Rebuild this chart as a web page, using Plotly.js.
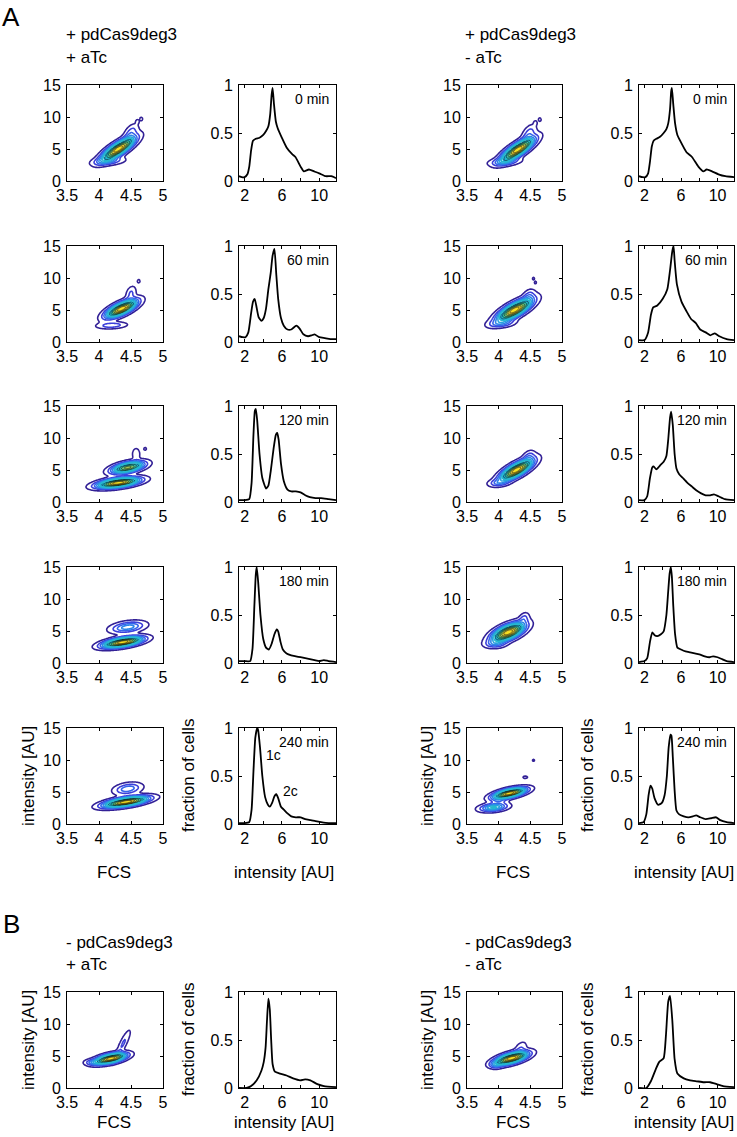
<!DOCTYPE html>
<html><head><meta charset="utf-8">
<script src="https://cdn.plot.ly/plotly-3.0.1.min.js"></script>
<style>html,body{margin:0;padding:0;background:#fff}#chart{width:737px;height:1137px}</style>
</head><body><div id="chart"></div>
<script>
// ---------------- DATA ----------------
const timeLabels = ['0 min','60 min','120 min','180 min','240 min'];
const titlesA = [['+ pdCas9deg3','+ aTc'],['+ pdCas9deg3','- aTc']];
const titlesB = [['- pdCas9deg3','+ aTc'],['- pdCas9deg3','- aTc']];

const fcsTicks = [3.5,4,4.5,5];
const fcsTickText = ['3.5','4','4.5','5'];
const intTicks = [0,5,10,15];
const intTickText = ['0','5','10','15'];
const histXTicks = [2,4,6,8,10];
const histXTickText = ['2','','6','','10'];
const histYTicks = [0,0.5,1];
const histYTickText = ['0','0.5','1'];

// histogram curves: + pdCas9deg3 + aTc (PP), + pdCas9deg3 - aTc (PM), - pd + aTc (MP), - pd - aTc (MM)
const hPP0x = [1.4,1.7,2.0,2.3,2.5,2.7,2.9,3.2,3.6,4.0,4.3,4.55,4.75,4.9,5.0,5.15,5.35,5.55,6.0,6.5,7.1,7.45,8.0,8.35,8.9,9.45,10.0,10.7,11.3,11.8];
const hPP0y = [0.05,0.04,0.04,0.07,0.15,0.32,0.42,0.44,0.45,0.48,0.52,0.57,0.7,0.9,0.97,0.8,0.62,0.55,0.45,0.35,0.28,0.25,0.15,0.1,0.12,0.1,0.08,0.05,0.05,0.03];
const hPM0x = [1.4,1.8,2.1,2.4,2.6,2.8,3.0,3.3,3.7,4.1,4.4,4.6,4.8,4.92,5.0,5.15,5.35,5.6,5.9,6.6,7.2,7.9,8.45,8.8,9.4,10.1,10.85,11.8];
const hPM0y = [0.05,0.04,0.04,0.08,0.2,0.36,0.42,0.44,0.46,0.5,0.54,0.6,0.75,0.93,0.97,0.8,0.6,0.48,0.42,0.3,0.25,0.15,0.1,0.12,0.1,0.07,0.05,0.04];
const hPP60x = [1.4,1.8,2.1,2.4,2.7,2.9,3.08,3.25,3.5,3.8,4.05,4.3,4.55,4.8,5.0,5.2,5.4,5.6,5.9,6.2,6.6,7.0,7.55,7.9,8.3,8.8,9.2,9.5,10.0,10.6,11.2,11.8];
const hPP60y = [0.06,0.05,0.05,0.1,0.3,0.42,0.45,0.38,0.26,0.22,0.25,0.35,0.55,0.72,0.9,0.97,0.7,0.45,0.25,0.17,0.13,0.13,0.17,0.14,0.08,0.06,0.07,0.08,0.05,0.04,0.03,0.03];
const hPM60x = [1.4,2.0,2.4,2.7,2.95,3.4,4.0,4.5,4.8,5.05,5.18,5.3,5.55,6.05,6.6,7.1,7.6,8.1,8.7,9.2,9.7,10.2,11.0,11.8];
const hPM60y = [0.02,0.02,0.1,0.28,0.36,0.38,0.45,0.55,0.75,0.95,1.0,0.85,0.6,0.42,0.32,0.24,0.2,0.13,0.1,0.07,0.09,0.06,0.03,0.02];
const hPP120x = [1.4,2.0,2.5,2.75,2.95,3.1,3.2,3.35,3.6,3.9,4.3,4.55,4.8,5.1,5.35,5.5,5.65,5.9,6.2,6.6,7.0,7.5,8.0,8.5,9.0,9.6,10.2,11.0,11.8];
const hPP120y = [0.02,0.02,0.03,0.2,0.7,0.95,0.97,0.85,0.5,0.25,0.14,0.17,0.32,0.55,0.7,0.72,0.65,0.4,0.22,0.13,0.11,0.11,0.1,0.07,0.05,0.04,0.04,0.03,0.02];
const hPM120x = [1.4,2.0,2.3,2.6,2.85,3.0,3.3,3.7,4.1,4.4,4.6,4.8,4.92,5.1,5.3,5.5,5.8,6.2,6.7,7.2,7.7,8.2,8.7,9.2,9.6,10.1,10.8,11.8];
const hPM120y = [0.02,0.02,0.06,0.25,0.36,0.37,0.34,0.38,0.42,0.48,0.65,0.88,0.94,0.8,0.5,0.35,0.29,0.25,0.2,0.16,0.12,0.09,0.07,0.07,0.08,0.06,0.03,0.02];
const hPP180x = [1.4,2.0,2.6,2.85,3.05,3.2,3.3,3.45,3.7,4.0,4.3,4.6,4.9,5.2,5.45,5.6,5.85,6.1,6.5,7.0,7.5,8.0,8.5,9.0,9.5,10.0,10.5,11.0,11.8];
const hPP180y = [0.02,0.02,0.02,0.15,0.6,0.92,1.0,0.85,0.5,0.25,0.16,0.14,0.2,0.3,0.35,0.33,0.22,0.14,0.1,0.08,0.07,0.06,0.05,0.04,0.03,0.02,0.03,0.02,0.01];
const hPM180x = [1.4,2.0,2.3,2.6,2.85,3.1,3.4,3.8,4.1,4.4,4.6,4.75,4.88,5.0,5.15,5.35,5.6,6.0,6.5,7.0,7.5,8.0,8.6,9.1,9.5,10.0,10.5,11.0,11.8];
const hPM180y = [0.01,0.02,0.05,0.22,0.32,0.29,0.28,0.3,0.33,0.5,0.75,0.93,1.0,0.9,0.6,0.3,0.16,0.14,0.12,0.11,0.1,0.09,0.07,0.06,0.07,0.06,0.04,0.02,0.01];
const hPP240x = [1.4,2.0,2.5,2.75,2.95,3.15,3.35,3.45,3.65,3.9,4.2,4.5,4.7,4.95,5.2,5.4,5.6,5.9,6.2,6.6,7.0,7.5,8.0,8.5,9.1,9.6,10.2,11.0,11.8];
const hPP240y = [0.01,0.01,0.02,0.15,0.55,0.9,1.0,0.98,0.8,0.5,0.28,0.2,0.18,0.22,0.29,0.31,0.27,0.18,0.15,0.11,0.08,0.07,0.07,0.05,0.04,0.03,0.02,0.01,0.01];
const hPM240x = [1.4,1.9,2.2,2.45,2.65,2.85,3.1,3.5,3.9,4.2,4.45,4.65,4.85,4.95,5.1,5.3,5.5,5.8,6.3,6.8,7.3,7.65,8.1,8.7,9.3,9.85,10.3,11.0,11.8];
const hPM240y = [0.01,0.02,0.1,0.3,0.4,0.37,0.27,0.2,0.22,0.3,0.5,0.8,0.93,0.92,0.7,0.35,0.14,0.1,0.08,0.07,0.08,0.09,0.07,0.05,0.06,0.07,0.04,0.02,0.01];
const hMPx = [1.4,2.2,2.7,3.3,3.8,4.05,4.25,4.4,4.55,4.7,4.85,5.0,5.25,5.8,6.5,7.2,7.95,8.5,9.05,9.8,10.5,11.8];
const hMPy = [0.0,0.0,0.02,0.08,0.18,0.27,0.42,0.7,0.93,0.82,0.5,0.25,0.17,0.15,0.13,0.1,0.08,0.09,0.08,0.04,0.02,0.01];
const hMMx = [1.4,2.2,2.7,3.25,3.6,4.1,4.35,4.6,4.8,5.05,5.3,5.6,6.3,7.0,7.75,8.5,9.2,9.9,10.6,11.8];
const hMMy = [0.0,0.0,0.07,0.2,0.27,0.31,0.55,0.9,0.96,0.7,0.3,0.15,0.1,0.08,0.07,0.06,0.06,0.04,0.02,0.01];

// density blobs: [FCS centre, intensity centre, sdFCS, sdIntensity, correlation, relative height]
const cPP0 = [[4.3,5.0,0.15,1.05,0.8,1.0],[4.5,7.6,0.07,0.8,0.5,0.12],[4.15,3.1,0.15,0.4,0.3,0.15],[4.6,9.3,0.02,0.25,0,0.05],[4.66,9.7,0.02,0.25,0,0.05]];
const cPM0 = [[4.3,4.9,0.15,1.05,0.8,1.0],[4.48,7.5,0.07,0.8,0.5,0.12],[4.1,3.0,0.15,0.4,0.3,0.15],[4.58,9.1,0.02,0.25,0,0.05],[4.65,9.6,0.02,0.25,0,0.05]];
const cPP60 = [[4.35,5.2,0.14,0.8,0.7,1.0],[4.5,7.6,0.05,0.7,0.3,0.1],[4.2,2.6,0.14,0.32,0.2,0.14],[4.62,9.5,0.02,0.25,0,0.05]];
const cPM60 = [[4.25,5.0,0.16,1.0,0.75,1.0],[4.48,7.3,0.06,0.6,0.3,0.1],[4.05,2.9,0.13,0.4,0.3,0.14],[4.55,9.9,0.015,0.2,0,0.05],[4.58,9.3,0.015,0.2,0,0.05]];
const cPP120 = [[4.45,5.4,0.15,0.55,0.5,0.75],[4.58,7.5,0.04,0.6,0,0.08],[4.72,8.3,0.02,0.2,0,0.05],[4.3,3.0,0.19,0.48,0.5,1.0]];
const cPM120 = [[4.28,5.0,0.15,0.95,0.75,1.0],[4.48,7.2,0.06,0.55,0.3,0.1],[4.0,3.0,0.1,0.35,0.2,0.12]];
const cPP180 = [[4.45,5.6,0.16,0.55,0.35,0.25],[4.37,3.25,0.18,0.5,0.55,1.0]];
const cPM180 = [[4.15,4.8,0.15,0.85,0.6,1.0],[4.4,7.0,0.05,0.55,0.3,0.1],[3.95,3.0,0.1,0.4,0.1,0.14]];
const cPP240 = [[4.45,5.5,0.13,0.55,0.3,0.2],[4.42,3.45,0.2,0.5,0.6,1.0]];
const cPM240 = [[4.17,4.8,0.15,0.5,0.6,1.0],[3.92,2.6,0.13,0.4,0.3,0.35],[4.0,3.6,0.08,0.3,0,0.1],[4.42,7.3,0.03,0.15,0,0.06],[4.55,9.95,0.015,0.15,0,0.05]];
const cMP = [[4.18,4.6,0.14,0.5,0.55,1.0],[4.38,7.0,0.07,1.3,0.85,0.1],[3.9,4.0,0.08,0.3,0,0.12]];
const cMM = [[4.2,4.65,0.15,0.6,0.6,1.0],[4.35,6.3,0.06,0.6,0.4,0.08],[3.95,3.6,0.06,0.35,0,0.12]];

// ---------------- LAYOUT GEOMETRY ----------------
const W = 737, H = 1137;
const FONT = '"Liberation Sans", Arial, Helvetica, sans-serif';
const colPx = [[67,163],[239,336],[467,562],[639,734]];
const rowTopPx = [85,246,406,567,728,992];
const boxH = 96;

const rows = [
  [cPP0,[hPP0x,hPP0y],cPM0,[hPM0x,hPM0y]],
  [cPP60,[hPP60x,hPP60y],cPM60,[hPM60x,hPM60y]],
  [cPP120,[hPP120x,hPP120y],cPM120,[hPM120x,hPM120y]],
  [cPP180,[hPP180x,hPP180y],cPM180,[hPM180x,hPM180y]],
  [cPP240,[hPP240x,hPP240y],cPM240,[hPM240x,hPM240y]],
  [cMP,[hMPx,hMPy],cMM,[hMMx,hMMy]]
];

// evaluation grid for the density surfaces
const gridX = [], gridY = [];
for (let v = 3.5; v <= 5.0001; v += 0.0125) gridX.push(+v.toFixed(4));
for (let v = 0; v <= 15.0001; v += 0.1) gridY.push(+v.toFixed(3));

function densityGrid(blobs){
  const z = []; let mx = 0;
  for (const y of gridY){
    const row = [];
    for (const x of gridX){
      let s = 0;
      for (const b of blobs){
        const [cx,cy,sx,sy,r,a] = b;
        const dx = (x-cx)/sx, dy = (y-cy)/sy;
        const q = (dx*dx - 2*r*dx*dy + dy*dy)/(1-r*r);
        s += a*Math.exp(-0.5*q);
      }
      row.push(s); if (s > mx) mx = s;
    }
    z.push(row);
  }
  return z.map(r => r.map(v => v/mx));
}

const fillScale = [[0,'rgba(255,255,255,0)'],[0.34,'rgba(255,255,255,0)'],[0.34,'rgb(45,160,220)'],[0.46,'rgb(30,182,200)'],[0.58,'rgb(70,192,150)'],[0.72,'rgb(150,198,90)'],[0.86,'rgb(228,196,52)'],[1,'rgb(248,228,30)']];
const lineScale = [[0,'rgb(50,32,150)'],[0.2,'rgb(60,64,218)'],[0.45,'rgb(52,110,238)'],[0.7,'rgb(40,150,228)'],[1,'rgb(36,185,206)']];

const layout = {
  width: W, height: H, margin:{l:0,r:0,t:0,b:0}, showlegend:false,
  paper_bgcolor:'#fff', plot_bgcolor:'#fff',
  font:{family:FONT, size:16, color:'#000'},
  annotations: []
};
const traces = [];
let n = 0;

function axisCommon(){
  return {showline:true, linecolor:'#000', linewidth:1, mirror:'ticks', ticks:'inside', ticklen:3, tickwidth:1, tickcolor:'#000',
    showgrid:false, zeroline:false, fixedrange:true, tickfont:{family:FONT,size:16,color:'#000'}};
}

function addPanel(colIdx, rowIdx, kind, data){
  n++;
  const xn = n===1 ? 'x' : 'x'+n, yn = n===1 ? 'y' : 'y'+n;
  const xk = n===1 ? 'xaxis' : 'xaxis'+n, yk = n===1 ? 'yaxis' : 'yaxis'+n;
  const [L,R] = colPx[colIdx]; const T = rowTopPx[rowIdx]; const B = T + boxH;
  const xa = axisCommon(), ya = axisCommon();
  xa.domain = [L/W, R/W]; xa.anchor = yn;
  ya.domain = [1-B/H, 1-T/H]; ya.anchor = xn;
  ya.ticklabelstandoff = 2;
  if (kind === 'contour'){
    xa.range = [3.5,5]; xa.tickvals = fcsTicks; xa.ticktext = fcsTickText;
    ya.range = [0,15]; ya.tickvals = intTicks; ya.ticktext = intTickText;
    const z = densityGrid(data);
    traces.push({type:'contour', x:gridX, y:gridY, z:z, xaxis:xn, yaxis:yn, zmin:0, zmax:1, zauto:false,
      colorscale:fillScale, showscale:false, hoverinfo:'skip',
      contours:{coloring:'heatmap', showlines:false, start:0.4, end:1, size:0.1}});
    traces.push({type:'contour', x:gridX, y:gridY, z:z, xaxis:xn, yaxis:yn,
      colorscale:lineScale, showscale:false, hoverinfo:'skip', line:{width:1.6},
      contours:{coloring:'lines', start:0.03, end:0.33, size:0.06}});
  } else {
    xa.range = [1.4,11.8]; xa.tickvals = histXTicks; xa.ticktext = histXTickText;
    ya.range = [0,1]; ya.tickvals = histYTicks; ya.ticktext = histYTickText;
    traces.push({type:'scatter', mode:'lines', x:data[0], y:data[1], xaxis:xn, yaxis:yn, hoverinfo:'skip',
      line:{color:'#000', width:1.8, shape:'spline', smoothing:0.5}});
    if (rowIdx < 5){
      layout.annotations.push({xref:'paper', yref:'paper', x:(R-5)/W, y:1-(T+14)/H, xanchor:'right', yanchor:'middle',
        text:timeLabels[rowIdx], showarrow:false, font:{family:FONT,size:14,color:'#000'}});
    }
    if (rowIdx === 4 && colIdx === 1){
      layout.annotations.push({xref:xn, yref:yn, x:5.05, y:0.72, text:'1c', showarrow:false, font:{family:FONT,size:14,color:'#000'}});
      layout.annotations.push({xref:xn, yref:yn, x:6.95, y:0.34, text:'2c', showarrow:false, font:{family:FONT,size:14,color:'#000'}});
    }
  }
  layout[xk] = xa; layout[yk] = ya;
}

rows.forEach((r, ri) => {
  addPanel(0, ri, 'contour', r[0]);
  addPanel(1, ri, 'hist', r[1]);
  addPanel(2, ri, 'contour', r[2]);
  addPanel(3, ri, 'hist', r[3]);
});

function txt(x, y, text, size, opts){
  layout.annotations.push(Object.assign({xref:'paper', yref:'paper', x:x/W, y:1-y/H, text:text, showarrow:false,
    xanchor:'center', yanchor:'middle', font:{family:FONT, size:size, color:'#000'}}, opts||{}));
}
// panel letters and condition titles
txt(11, 17, 'A', 26);
txt(11, 924, 'B', 26);
txt(64, 35, titlesA[0][0], 17, {xanchor:'left'});
txt(64, 57, titlesA[0][1], 17, {xanchor:'left'});
txt(463, 35, titlesA[1][0], 17, {xanchor:'left'});
txt(463, 57, titlesA[1][1], 17, {xanchor:'left'});
txt(64, 942, titlesB[0][0], 17, {xanchor:'left'});
txt(64, 964, titlesB[0][1], 17, {xanchor:'left'});
txt(463, 942, titlesB[1][0], 17, {xanchor:'left'});
txt(463, 964, titlesB[1][1], 17, {xanchor:'left'});
// axis titles on the last row of A and on B
[[rowTopPx[4], 872],[rowTopPx[5], 1122]].forEach(([T, ty]) => {
  const cy = T + boxH/2;
  txt(28, cy, 'intensity [AU]', 17, {textangle:-90});
  txt(188, cy, 'fraction of cells', 17, {textangle:-90});
  txt(427, cy, 'intensity [AU]', 17, {textangle:-90});
  txt(587, cy, 'fraction of cells', 17, {textangle:-90});
  txt(114, ty, 'FCS', 17);
  txt(284, ty, 'intensity [AU]', 17);
  txt(513, ty, 'FCS', 17);
  txt(684, ty, 'intensity [AU]', 17);
});

Plotly.newPlot('chart', traces, layout, {staticPlot:true, displayModeBar:false});
</script></body></html>
